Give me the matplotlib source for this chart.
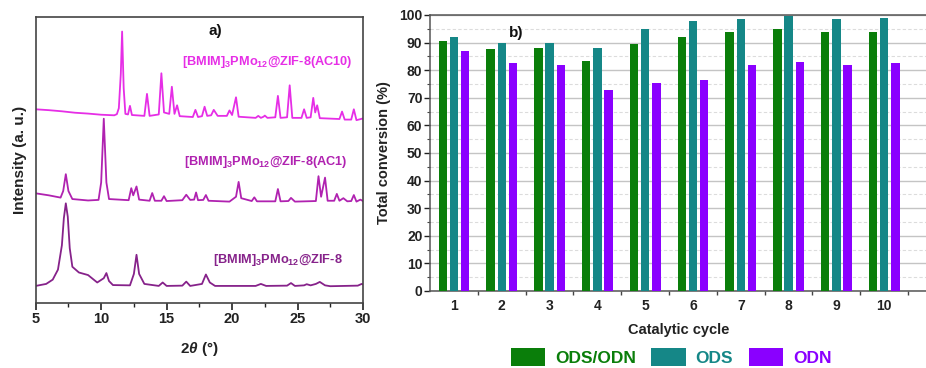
import matplotlib
matplotlib.use("Agg")
import matplotlib.pyplot as plt
from matplotlib.patches import Patch
from matplotlib.ticker import MultipleLocator, FixedLocator

FONT = ['Liberation Sans', 'DejaVu Sans']
plt.rcParams['font.family'] = FONT
plt.rcParams['font.weight'] = 'bold'
plt.rcParams['mathtext.fontset'] = 'custom'
plt.rcParams['mathtext.rm'] = 'Liberation Sans:bold'
plt.rcParams['mathtext.bf'] = 'Liberation Sans:bold'
plt.rcParams['mathtext.it'] = 'Liberation Sans:bold:italic'

# ---------------- panel a) XRD traces (vertices read from the picture) -----
ac10_x = [5.0, 6.0, 7.0, 8.0, 9.0, 10.0, 11.0, 11.2, 11.35, 11.5, 11.6, 11.72, 11.85,
          12.05, 12.2, 12.35, 13.3, 13.5, 13.7, 14.4, 14.6, 14.8, 15.2, 15.4, 15.6,
          15.8, 16.0, 17.0, 17.2, 17.4, 17.7, 17.9, 18.1, 18.4, 18.6, 18.9, 19.6,
          19.8, 20.0, 20.3, 20.5, 21.8, 22.0, 22.2, 22.4, 22.5, 22.7, 23.3, 23.5,
          23.7, 24.2, 24.4, 24.6, 25.3, 25.5, 25.7, 26.0, 26.2, 26.35, 26.5, 26.7,
          28.2, 28.4, 28.6, 29.1, 29.3, 29.5, 30.0]
ac10_y = [67.6, 67.3, 66.9, 66.4, 66.1, 65.7, 65.5, 65.9, 68.0, 80.0, 94.8, 75.0, 66.0,
          65.8, 68.8, 65.6, 65.3, 73.0, 65.3, 65.8, 80.2, 66.5, 66.0, 75.5, 66.0,
          69.0, 65.2, 64.9, 67.4, 64.9, 65.2, 68.5, 65.3, 65.5, 67.4, 65.3, 65.3,
          67.2, 65.6, 71.8, 65.0, 64.6, 65.3, 64.6, 65.0, 65.4, 64.6, 64.8, 72.3,
          64.6, 64.8, 76.0, 64.6, 64.6, 67.6, 64.6, 64.8, 71.6, 66.5, 69.0, 64.5,
          64.2, 66.8, 64.0, 64.0, 67.6, 63.8, 64.4]

ac1_x = [5.0, 6.0, 6.9, 7.1, 7.3, 7.5, 7.8, 9.0, 9.8, 10.0, 10.2, 10.4, 10.6, 12.1,
         12.3, 12.45, 12.7, 12.9, 13.7, 13.9, 14.1, 14.6, 14.8, 15.0, 16.2, 16.5,
         16.8, 17.1, 17.25, 17.4, 17.8, 18.0, 18.2, 19.8, 20.3, 20.5, 20.7, 21.5,
         21.7, 21.9, 23.3, 23.5, 23.7, 24.3, 24.5, 24.8, 26.4, 26.6, 26.8, 27.1,
         27.3, 27.8, 28.0, 28.2, 28.5, 28.8, 29.1, 29.3, 29.5, 29.8, 30.0]
ac1_y = [38.2, 37.5, 36.7, 39.0, 44.9, 39.0, 36.2, 35.7, 35.9, 42.0, 64.3, 42.0, 36.2,
         35.8, 40.0, 37.5, 40.6, 36.0, 35.6, 38.3, 35.6, 35.6, 37.2, 35.5, 35.8,
         37.7, 35.9, 36.0, 38.5, 35.8, 35.9, 37.6, 35.6, 35.3, 37.0, 42.2, 36.5,
         35.5, 36.8, 35.4, 35.4, 39.7, 35.4, 35.5, 36.6, 35.3, 35.5, 44.2, 37.0,
         43.7, 35.6, 35.6, 38.0, 35.6, 36.5, 35.4, 35.5, 37.6, 35.3, 36.0, 35.5]

zif_x = [5.0, 5.8, 6.3, 6.7, 7.0, 7.15, 7.3, 7.45, 7.6, 7.8, 8.3, 9.0, 9.7, 10.2, 10.4,
         10.6, 10.9, 12.2, 12.5, 12.7, 12.9, 13.3, 14.4, 14.7, 15.0, 16.2, 16.5,
         16.8, 17.7, 18.0, 18.3, 18.7, 21.8, 22.2, 22.6, 24.2, 24.5, 24.8, 25.5,
         25.7, 26.0, 26.4, 26.7, 27.1, 27.5, 29.6, 29.9, 30.0]
zif_y = [5.8, 6.5, 8.0, 11.5, 20.0, 29.5, 34.7, 30.0, 19.0, 12.5, 10.5, 9.6, 7.0, 8.5, 10.3,
         7.5, 6.1, 6.0, 10.0, 16.7, 10.0, 6.5, 5.8, 7.0, 5.8, 5.9, 7.3,
         5.8, 6.5, 9.8, 7.0, 5.8, 5.8, 6.5, 5.8, 5.9, 6.8, 5.8, 6.0,
         6.4, 6.0, 6.5, 7.2, 6.0, 5.7, 5.9, 6.5, 6.3]

xrd_labels = [r'[BMIM]$_{\mathbf{3}}$PMo$_{\mathbf{12}}$@ZIF-8(AC10)',
              r'[BMIM]$_{\mathbf{3}}$PMo$_{\mathbf{12}}$@ZIF-8(AC1)',
              r'[BMIM]$_{\mathbf{3}}$PMo$_{\mathbf{12}}$@ZIF-8']
xrd_colors = ['#e62ee6', '#b022b0', '#86228a']

# ---------------- panel b) conversion per catalytic cycle -----------------
cycles = [1, 2, 3, 4, 5, 6, 7, 8, 9, 10]
ods_odn = [90.5, 87.5, 88.0, 83.5, 89.5, 92.0, 94.0, 95.0, 94.0, 94.0]
ods = [92.0, 90.0, 90.0, 88.0, 95.0, 98.0, 98.5, 99.5, 98.5, 99.0]
odn = [87.0, 82.5, 82.0, 73.0, 75.5, 76.5, 82.0, 83.0, 82.0, 82.5]
series_names = ['ODS/ODN', 'ODS', 'ODN']
bar_colors = ['#0a7e0a', '#158787', '#8a00ff']

W, H = 926, 368
fig = plt.figure(figsize=(W / 100, H / 100), dpi=100)

def fx(px):
    return px / W

def fy(py):
    return 1 - py / H

spine_c = '#444444'

# ---- panel a
axa = fig.add_axes([fx(35.7), fy(302.5), fx(363) - fx(35.7), fy(16.7) - fy(302.5)])
for xs, ys, c in zip([ac10_x, ac1_x, zif_x], [ac10_y, ac1_y, zif_y], xrd_colors):
    axa.plot(xs, ys, color=c, lw=1.3)
axa.set_xlim(5, 30)
axa.set_ylim(0, 100)
axa.set_yticks([])
axa.xaxis.set_major_locator(MultipleLocator(5))
axa.xaxis.set_minor_locator(MultipleLocator(2.5))
axa.tick_params(axis='x', which='major', direction='out', length=5, width=1.2,
                labelsize=10.5, pad=2, colors='#222222')
axa.tick_params(axis='x', which='minor', direction='out', length=3, width=1.0, colors='#222222')
for lab in axa.get_xticklabels():
    lab.set_fontweight('bold')
for s in axa.spines.values():
    s.set_color(spine_c)
    s.set_linewidth(1.2)
axa.set_xlabel(r'2$\mathit{\theta}$ (°)', fontsize=11, fontweight='bold', labelpad=10,
               color='#222222')
axa.set_ylabel('Intensity (a. u.)', fontsize=11, fontweight='bold', labelpad=6,
               color='#222222')
axa.text(18.7, 95, 'a)', fontsize=11, fontweight='bold', ha='center', va='center',
         color='#111111')
label_pos = [(22.7, 84.3), (22.6, 49.3), (23.5, 15.0)]
for (tx, ty), lab, c in zip(label_pos, xrd_labels, xrd_colors):
    axa.text(tx, ty, lab, color=c, fontsize=9.2, fontweight='bold',
             ha='center', va='center')

# ---- panel b
left_px, right_px = 430.1, 927.2
axb = fig.add_axes([fx(left_px), fy(291), fx(right_px) - fx(left_px), fy(15) - fy(291)])
bw = 0.175
offs = [-0.235, 0.0, 0.235]
for vals, off, c, name in zip([ods_odn, ods, odn], offs, bar_colors, series_names):
    axb.bar([x + off for x in cycles], vals, width=bw, color=c, label=name,
            edgecolor='none', zorder=3)
axb.set_xlim(0.5, 10.9)
axb.set_ylim(0, 100)
axb.yaxis.set_major_locator(MultipleLocator(10))
axb.yaxis.set_minor_locator(MultipleLocator(5))
axb.grid(axis='y', which='major', color='#c4c4c4', lw=1.0, zorder=0)
axb.grid(axis='y', which='minor', color='#dcdcdc', lw=0.8, ls=(0, (3, 2)), zorder=0)
axb.set_xticks(cycles)
axb.xaxis.set_minor_locator(FixedLocator([c + 0.5 for c in cycles]))
axb.tick_params(axis='x', which='major', length=0, labelsize=10, pad=6, colors='#222222')
axb.tick_params(axis='x', which='minor', direction='out', length=3, width=1.0, colors='#444444')
axb.tick_params(axis='y', which='major', direction='out', length=4, width=1.0,
                labelsize=10, pad=1.5, colors='#222222')
axb.tick_params(axis='y', which='minor', direction='out', length=2.5, width=0.8, colors='#444444')
for lab in axb.get_xticklabels() + axb.get_yticklabels():
    lab.set_fontweight('bold')
for s in axb.spines.values():
    s.set_color('#555555')
    s.set_linewidth(1.1)
axb.spines['right'].set_visible(False)
axb.set_xlabel('Catalytic cycle', fontsize=10.5, fontweight='bold', labelpad=7,
               color='#222222')
axb.set_ylabel('Total conversion (%)', fontsize=10.5, fontweight='bold', labelpad=6,
               color='#222222')
axb.text(2.3, 93.5, 'b)', fontsize=11, fontweight='bold', ha='center', va='center',
         color='#111111')

handles = [Patch(facecolor=c, edgecolor='none') for c in bar_colors]
fig.legend(handles, series_names, loc='center', ncol=3,
           bbox_to_anchor=(fx(671), fy(357)), frameon=False,
           labelcolor=bar_colors, handlelength=2.0, handleheight=1.3,
           handletextpad=0.55, columnspacing=0.9, borderpad=0.0,
           prop={'weight': 'bold', 'size': 12.5, 'family': FONT})

fig.savefig('out.png', dpi=100)
